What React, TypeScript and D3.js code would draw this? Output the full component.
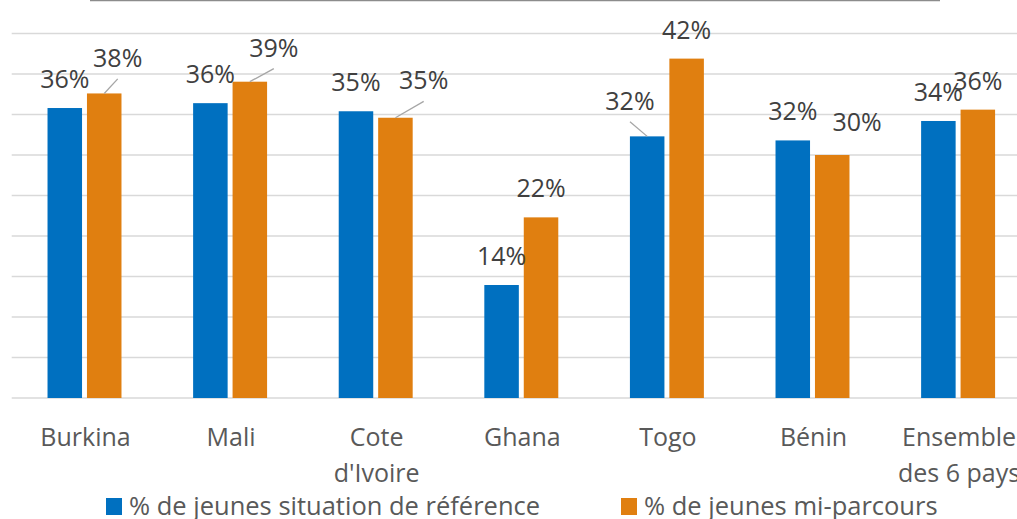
import React, { useRef, useEffect } from 'react';
import * as d3 from 'd3';

// chart values (percent)
const categories = ['Burkina', 'Mali', "Cote d'Ivoire", 'Ghana', 'Togo', 'Bénin', 'Ensemble des 6 pays'];
const referenceValues = [35.8, 36.4, 35.4, 13.95, 32.3, 31.8, 34.2];
const midtermValues = [37.6, 39.05, 34.6, 22.3, 41.9, 30.0, 35.6];
const seriesNames = ['% de jeunes situation de référence', '% de jeunes mi-parcours'];
const gridTicks = [0, 5, 10, 15, 20, 25, 30, 35, 40, 45];

const COLORS = ['#0070c0', '#e07f10'];
const FONT = "'Open Sans', 'Noto Sans', sans-serif";

// manual nudges for labels Excel moved to avoid overlaps: [series][category] -> [dx, dy, leader]
const labelNudges: Record<string, [number, number, boolean]> = {
  '1-0': [13.5, -6.6, true],
  '1-1': [24, -5, true],
  '1-2': [28.3, -8.4, true],
  '0-4': [-17.2, -6.7, true],
  '1-5': [24.9, -3.6, false],
};

const Chart = () => {
  const ref = useRef<SVGSVGElement>(null);

  useEffect(() => {
    const width = 1017;
    const height = 519;
    const svg = d3.select(ref.current);
    svg.selectAll('*').remove();
    svg.attr('width', width).attr('height', height);

    const plotLeft = 11.7;
    const step = 145.6;
    const x = d3.scaleBand<string>()
      .domain(categories)
      .range([plotLeft, plotLeft + step * categories.length])
      .paddingInner(0.492)
      .paddingOuter(0.246);
    const inner = d3.scaleBand<number>()
      .domain([0, 1])
      .range([0, x.bandwidth()])
      .paddingInner(0.125);
    const y = d3.scaleLinear().domain([0, 50]).range([398, -7]);

    // cropped title border at the very top
    svg.append('line')
      .attr('x1', 90).attr('x2', 940)
      .attr('y1', 0.5).attr('y2', 0.5)
      .attr('stroke', '#8c8c8c').attr('stroke-width', 1.5);

    // gridlines
    svg.append('g')
      .selectAll('line')
      .data(gridTicks)
      .join('line')
      .attr('x1', plotLeft)
      .attr('x2', width)
      .attr('y1', d => y(d))
      .attr('y2', d => y(d))
      .attr('stroke', '#d9d9d9')
      .attr('stroke-width', 1.4);

    const series = [referenceValues, midtermValues];

    series.forEach((vals, si) => {
      const g = svg.append('g');
      g.selectAll('rect')
        .data(vals)
        .join('rect')
        .attr('x', (d, i) => x(categories[i])! + inner(si)!)
        .attr('y', d => y(d))
        .attr('width', inner.bandwidth())
        .attr('height', d => y(0) - y(d))
        .attr('fill', COLORS[si]);
    });

    // data labels (after bars so they sit on top)
    series.forEach((vals, si) => {
      vals.forEach((v, i) => {
        const cx = x(categories[i])! + inner(si)! + inner.bandwidth() / 2;
        const top = y(v);
        const nudge = labelNudges[`${si}-${i}`] || [0, 0, false];
        const lx = cx + nudge[0];
        const ly = top - 20 + nudge[1];
        if (nudge[2]) {
          svg.append('line')
            .attr('x1', cx).attr('y1', top)
            .attr('x2', lx).attr('y2', ly + 12)
            .attr('stroke', '#a6a6a6').attr('stroke-width', 1.3);
        }
        svg.append('text')
          .attr('x', lx)
          .attr('y', ly)
          .attr('text-anchor', 'middle')
          .style('font-family', FONT)
          .style('font-size', '25px')
          .attr('fill', '#404040')
          .text(`${Math.round(v)}%`);
      });
    });

    // category labels, wrapped to the band
    const maxWidth = step * 0.86;
    categories.forEach(cat => {
      const cx = x(cat)! + x.bandwidth() / 2 + 1;
      const t = svg.append('text')
        .attr('text-anchor', 'middle')
        .style('font-family', FONT)
        .style('font-size', '25px')
        .attr('fill', '#595959');
      const words = cat.split(' ');
      const lines: string[] = [];
      let cur: string[] = [];
      const tspan = t.append('tspan').attr('x', cx).attr('y', 446);
      words.forEach(w => {
        cur.push(w);
        tspan.text(cur.join(' '));
        if ((tspan.node() as SVGTSpanElement).getComputedTextLength() > maxWidth && cur.length > 1) {
          cur.pop();
          lines.push(cur.join(' '));
          cur = [w];
        }
      });
      lines.push(cur.join(' '));
      t.selectAll('tspan').remove();
      lines.forEach((ln, k) => {
        t.append('tspan').attr('x', cx).attr('y', 446 + k * 35.5).text(ln);
      });
    });

    // legend
    const legendX = [106, 621];
    seriesNames.forEach((name, si) => {
      svg.append('rect')
        .attr('x', legendX[si]).attr('y', 498)
        .attr('width', 16).attr('height', 17)
        .attr('fill', COLORS[si]);
      svg.append('text')
        .attr('x', legendX[si] + 23)
        .attr('y', 515)
        .style('font-family', FONT)
        .style('font-size', '25.5px')
        .attr('fill', '#595959')
        .text(name);
    });
  }, []);

  return <svg ref={ref} style={{ position: 'absolute', left: 0, top: 0, display: 'block' }}></svg>;
};

export default function App() {
  return <Chart />;
}
